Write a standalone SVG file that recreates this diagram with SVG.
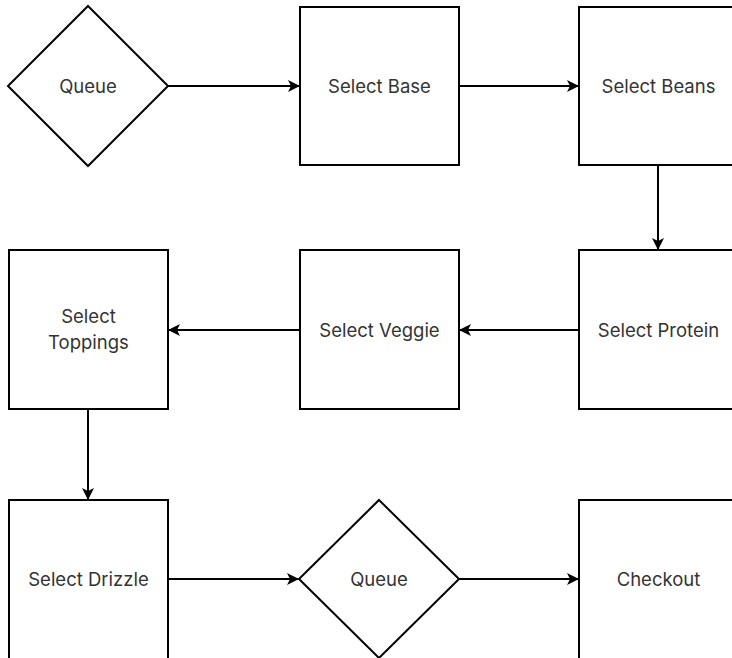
<svg xmlns="http://www.w3.org/2000/svg" width="732" height="658" viewBox="0 0 732 658">
<defs>
<style>
.n{fill:#fff;stroke:#000;stroke-width:2}
.t{font-family:"Inter","Liberation Sans",sans-serif;font-size:18.5px;fill:#333;text-anchor:middle;dominant-baseline:central}
.c{stroke:#000;stroke-width:2;fill:none;marker-end:url(#ah)}
</style>
<marker id="ah" viewBox="0 0 12 12" refX="11" refY="6" markerWidth="12" markerHeight="12" markerUnits="userSpaceOnUse" orient="auto">
<path d="M0,0 L12,6 L0,12 L3,6 Z" fill="#000"/>
</marker>
</defs>
<rect width="732" height="658" fill="#fff"/>
<g id="connectors">
<line class="c" x1="168" y1="86" x2="299" y2="86"/>
<line class="c" x1="459" y1="86" x2="578" y2="86"/>
<line class="c" x1="658" y1="165" x2="658" y2="249"/>
<line class="c" x1="579" y1="330" x2="460" y2="330"/>
<line class="c" x1="300" y1="330" x2="169" y2="330"/>
<line class="c" x1="88" y1="409" x2="88" y2="499"/>
<line class="c" x1="168" y1="579" x2="298" y2="579"/>
<line class="c" x1="459" y1="579" x2="578" y2="579"/>
</g>
<g id="queue1"><polygon class="n" points="88,6 168,86 88,166 8,86"/><text class="t" x="88" y="86">Queue</text></g>
<g id="selectBase"><rect class="n" x="300" y="7" width="159" height="158"/><text class="t" x="379.5" y="86">Select Base</text></g>
<g id="selectBeans"><rect class="n" x="579" y="7" width="159" height="158"/><text class="t" x="658.5" y="86">Select Beans</text></g>
<g id="selectProtein"><rect class="n" x="579" y="250" width="159" height="159"/><text class="t" x="658.5" y="330">Select Protein</text></g>
<g id="selectVeggie"><rect class="n" x="300" y="250" width="159" height="159"/><text class="t" x="379.5" y="330">Select Veggie</text></g>
<g id="selectToppings"><rect class="n" x="9" y="250" width="159" height="159"/><text class="t" x="88.5" y="316">Select</text><text class="t" x="88.5" y="342">Toppings</text></g>
<g id="selectDrizzle"><rect class="n" x="9" y="500" width="159" height="159"/><text class="t" x="88.5" y="579">Select Drizzle</text></g>
<g id="queue2"><polygon class="n" points="379,500 459,579 379,658 299,579"/><text class="t" x="379" y="579">Queue</text></g>
<g id="checkout"><rect class="n" x="579" y="500" width="159" height="159"/><text class="t" x="658.5" y="579">Checkout</text></g>
</svg>
